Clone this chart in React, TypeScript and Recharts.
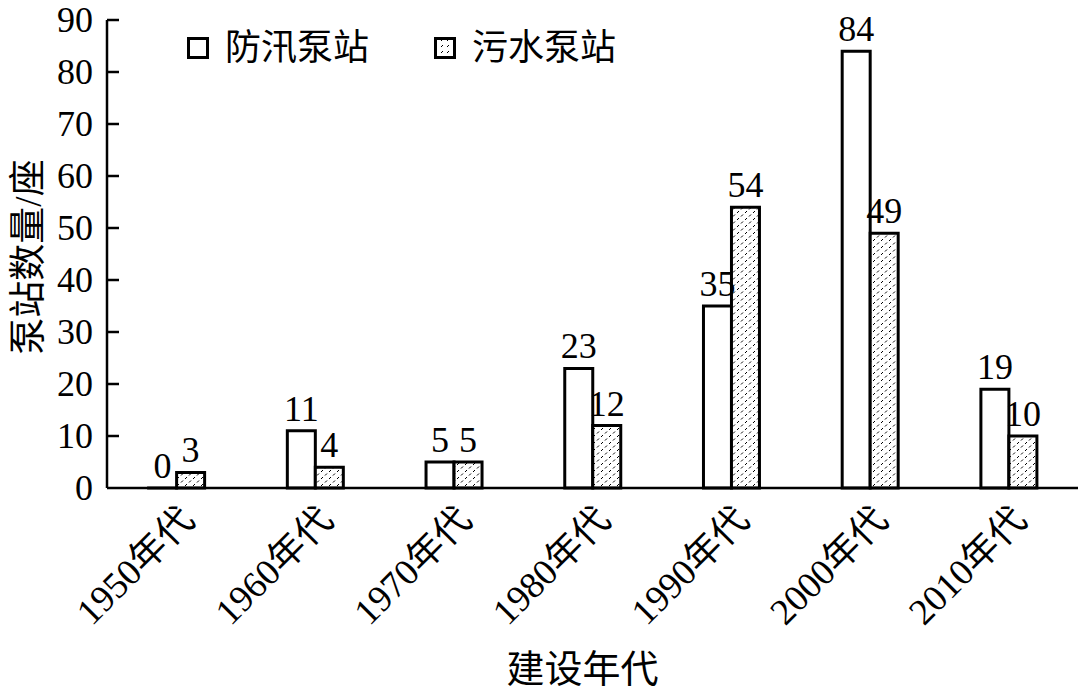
import { BarChart, Bar, XAxis, YAxis, LabelList, Legend, Label } from 'recharts';

const decades = ['1950年代', '1960年代', '1970年代', '1980年代', '1990年代', '2000年代', '2010年代'];
const floodStations = [0, 11, 5, 23, 35, 84, 19];
const sewageStations = [3, 4, 5, 12, 54, 49, 10];
const yTicks = [0, 10, 20, 30, 40, 50, 60, 70, 80, 90];

const seriesKeys = ['flood', 'sewage'];
const seriesNames = { flood: '防汛泵站', sewage: '污水泵站' };

const data = decades.map((decade, i) => ({
  decade,
  flood: floodStations[i],
  sewage: sewageStations[i],
}));

const FONT = '"Liberation Serif", "Times New Roman", "Noto Sans CJK SC", serif';

// y ticks point inward (to the right of the axis)
const YTick = (props: any) => {
  const { x, y, payload } = props;
  return (
    <g>
      {payload.value !== 0 && (
        <line x1={x} x2={x + 12} y1={y} y2={y} stroke="#000" strokeWidth={2.5} />
      )}
      <text x={x - 14} y={y} dy="0.34em" textAnchor="end" fontSize={36} fontFamily={FONT} fill="#000">
        {payload.value}
      </text>
    </g>
  );
};

const XTick = (props: any) => {
  const { x, y, payload } = props;
  return (
    <text
      transform={`translate(${x + 20},${y + 34}) rotate(-45)`}
      textAnchor="end"
      fontSize={37}
      fontFamily={FONT}
      fill="#000"
    >
      {payload.value}
    </text>
  );
};

const Swatch = ({ hatched }: { hatched: boolean }) => (
  <svg width={22} height={22} style={{ display: 'block' }}>
    <defs>
      <pattern id="hatchLegend" width="6" height="6" patternUnits="userSpaceOnUse">
        <rect width="6" height="6" fill="#fff" />
        <path d="M1,4 L3,2" stroke="#000" strokeWidth={1} />
      </pattern>
    </defs>
    <rect x={1.5} y={1.5} width={19} height={19} fill={hatched ? 'url(#hatchLegend)' : '#fff'} stroke="#000" strokeWidth={3} />
  </svg>
);

const LegendContent = (props: any) => {
  const { payload = [] } = props;
  const items = [...payload].sort(
    (a: any, b: any) => seriesKeys.indexOf(a.dataKey) - seriesKeys.indexOf(b.dataKey)
  );
  return (
    <div style={{ display: 'flex', alignItems: 'center', fontFamily: FONT, fontSize: 36, color: '#000' }}>
      {items.map((p: any, i: number) => (
        <div key={p.value} style={{ display: 'flex', alignItems: 'center', marginLeft: i === 0 ? 0 : 65 }}>
          <Swatch hatched={p.dataKey === 'sewage'} />
          <span style={{ marginLeft: 16, lineHeight: 1 }}>{p.value}</span>
        </div>
      ))}
    </div>
  );
};

// keep zero-valued bars in the layout so their "0" label is still drawn
const keepZero = (value: any) => (value === 0 ? 0.001 : 0);

export default function App() {
  return (
    <div>
      <style>{`body{margin:0;background:#fff}`}</style>
      <BarChart
        width={1080}
        height={692}
        data={data}
        margin={{ top: 20, right: 2, bottom: 0, left: 0 }}
        barCategoryGap="30%"
        barGap={0}
      >
        <defs>
          <pattern id="hatch" width="8" height="7" patternUnits="userSpaceOnUse">
            <rect width="8" height="7" fill="#fff" />
            <path d="M1,3 L3,1 M5,6.5 L7,4.5" stroke="#000" strokeWidth={1} />
          </pattern>
        </defs>
        <XAxis
          dataKey="decade"
          height={204}
          interval={0}
          tickLine={false}
          tickSize={0}
          tickMargin={0}
          axisLine={{ stroke: '#000', strokeWidth: 2.5 }}
          tick={<XTick />}
        >
          <Label
            content={(p: any) => {
              const vb = p.viewBox;
              return (
                <text x={vb.x + vb.width / 2 - 10} y={vb.y + vb.height - 10} textAnchor="middle" fontSize={38} fontFamily={FONT} fill="#000">
                  建设年代
                </text>
              );
            }}
          />
        </XAxis>
        <YAxis
          width={107}
          domain={[0, 90]}
          ticks={yTicks}
          interval={0}
          tickLine={false}
          tickSize={0}
          tickMargin={0}
          axisLine={{ stroke: '#000', strokeWidth: 2.5 }}
          tick={<YTick />}
        >
          <Label
            content={(p: any) => {
              const vb = p.viewBox;
              const cy = vb.y + vb.height / 2 + 3;
              return (
                <text
                  transform={`translate(28,${cy}) rotate(-90)`}
                  textAnchor="middle"
                  dominantBaseline="central"
                  fontSize={37}
                  fontFamily={FONT}
                  fill="#000"
                >
                  泵站数量/座
                </text>
              );
            }}
          />
        </YAxis>
        <Legend
          layout="horizontal"
          verticalAlign="middle"
          align="center"
          content={<LegendContent />}
          wrapperStyle={{ top: 30, left: 187, width: 'auto', height: 'auto' }}
        />
        <Bar dataKey="flood" name={seriesNames.flood} fill="#fff" stroke="#000" strokeWidth={3} minPointSize={keepZero} isAnimationActive={false}>
          <LabelList dataKey="flood" position="top" offset={10} fontSize={36} fontFamily={FONT} fill="#000" />
        </Bar>
        <Bar dataKey="sewage" name={seriesNames.sewage} fill="url(#hatch)" stroke="#000" strokeWidth={3} isAnimationActive={false}>
          <LabelList dataKey="sewage" position="top" offset={10} fontSize={36} fontFamily={FONT} fill="#000" />
        </Bar>
      </BarChart>
    </div>
  );
}
